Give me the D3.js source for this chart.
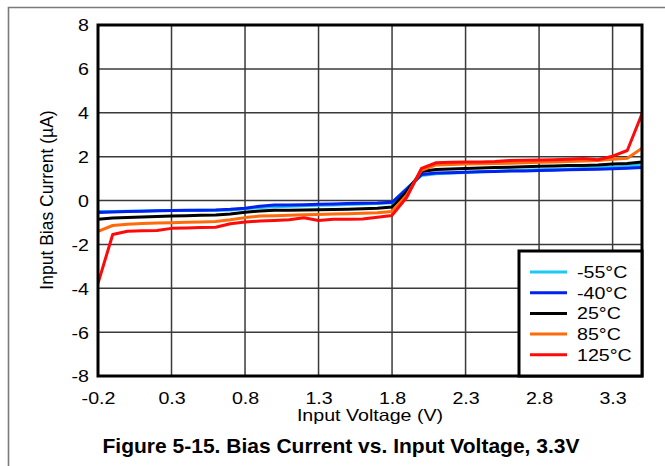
<!DOCTYPE html>
<html><head><meta charset="utf-8">
<script src="https://cdn.jsdelivr.net/npm/d3@7"></script>
<style>
body{margin:0;background:#fff}
svg{display:block}
text{font-family:"Liberation Sans",Arial,sans-serif;fill:#000}
</style>
</head><body>
<svg id="c" width="665" height="466"></svg>
<script>
const voltages = [-0.2,-0.1,0,0.1,0.2,0.3,0.4,0.5,0.6,0.7,0.8,0.9,1.0,1.1,1.2,1.3,1.4,1.5,1.6,1.7,1.8,1.9,2.0,2.1,2.2,2.3,2.4,2.5,2.6,2.7,2.8,2.9,3.0,3.1,3.2,3.3,3.4,3.5];
const seriesNames = ["-55°C","-40°C","25°C","85°C","125°C"];
const seriesColors = ["#1ec8f5","#0022ee","#000000","#ff6a0a","#ff0a0a"];
const iM55 = [-0.50,-0.50,-0.49,-0.48,-0.47,-0.46,-0.46,-0.45,-0.45,-0.43,-0.38,-0.32,-0.28,-0.26,-0.24,-0.22,-0.20,-0.18,-0.16,-0.14,-0.10,0.55,1.14,1.22,1.25,1.28,1.31,1.33,1.36,1.38,1.40,1.42,1.44,1.46,1.49,1.52,1.56,1.62];
const iM40 = [-0.55,-0.52,-0.50,-0.49,-0.47,-0.46,-0.45,-0.44,-0.43,-0.40,-0.35,-0.26,-0.21,-0.20,-0.19,-0.17,-0.16,-0.14,-0.12,-0.11,-0.08,0.52,1.18,1.25,1.27,1.29,1.31,1.32,1.34,1.35,1.37,1.38,1.40,1.41,1.43,1.45,1.47,1.50];
const i25 = [-0.85,-0.80,-0.77,-0.75,-0.73,-0.71,-0.69,-0.67,-0.66,-0.62,-0.54,-0.48,-0.45,-0.44,-0.43,-0.42,-0.41,-0.40,-0.38,-0.35,-0.30,0.40,1.32,1.41,1.44,1.46,1.48,1.50,1.52,1.54,1.56,1.57,1.59,1.60,1.62,1.66,1.69,1.76];
const i85 = [-1.41,-1.14,-1.08,-1.05,-1.03,-1.01,-0.99,-0.98,-0.96,-0.88,-0.78,-0.71,-0.69,-0.67,-0.65,-0.64,-0.62,-0.60,-0.58,-0.56,-0.50,0.25,1.38,1.62,1.64,1.66,1.67,1.69,1.70,1.72,1.74,1.76,1.78,1.80,1.82,1.88,1.93,2.38];
const i125 = [-3.78,-1.55,-1.40,-1.38,-1.37,-1.27,-1.25,-1.23,-1.22,-1.06,-0.98,-0.94,-0.91,-0.88,-0.79,-0.91,-0.86,-0.85,-0.84,-0.76,-0.68,0.15,1.46,1.72,1.74,1.75,1.76,1.78,1.82,1.83,1.85,1.86,1.88,1.91,1.86,2.02,2.28,3.95];
const xTicks = [-0.2,0.3,0.8,1.3,1.8,2.3,2.8,3.3];
const yTicks = [-8,-6,-4,-2,0,2,4,6,8];
const xLabel = "Input Voltage (V)";
const yLabel = "Input Bias Current (\u00b5A)";
const caption = "Figure 5-15. Bias Current vs. Input Voltage, 3.3V";

const seriesValues = [iM55, iM40, i25, i85, i125];
const svg = d3.select("#c");
const L = 98, R = 642, T = 25, B = 376;
const SX = 1.19; // horizontal stretch of chart texts
const x = d3.scaleLinear().domain([-0.2, 3.5]).range([L, R]);
const y = d3.scaleLinear().domain([-8, 8]).range([B, T]);
const hy = v => String(v).replace("\u2212", "-");

// outer frame
svg.append("path").attr("d", "M8.5,466 V7.5 H665").attr("fill","none").attr("stroke","#7a7a7a").attr("stroke-width",1.6);

// grid
const grid = svg.append("g").attr("stroke","#3a3a3a").attr("stroke-width",1.5);
grid.selectAll("line.v").data(xTicks.slice(1)).join("line")
  .attr("x1", d=>x(d)).attr("x2", d=>x(d)).attr("y1", T).attr("y2", B);
grid.selectAll("line.h").data(yTicks.slice(1,-1)).join("line")
  .attr("x1", L).attr("x2", R).attr("y1", d=>y(d)).attr("y2", d=>y(d));

// axes
const xAxis = svg.append("g").attr("transform", `translate(0,${B})`)
  .call(d3.axisBottom(x).tickValues(xTicks).tickSize(0).tickFormat(d => hy(d3.format(".1f")(d))));
xAxis.select(".domain").remove();
xAxis.selectAll("text").attr("font-size", 16.5).attr("font-family","Liberation Sans, Arial, sans-serif")
  .attr("y", 28).attr("dy", null).attr("transform", `scale(${SX},1)`);
const yAxis = svg.append("g").attr("transform", `translate(${L},0)`)
  .call(d3.axisLeft(y).tickValues(yTicks).tickSize(0).tickFormat(d => hy(d3.format("d")(d))));
yAxis.select(".domain").remove();
yAxis.selectAll("text").attr("font-size", 16.5).attr("font-family","Liberation Sans, Arial, sans-serif")
  .attr("x", -9 / SX).attr("dy", "0.36em").attr("transform", `scale(${SX},1)`);

// lines
svg.append("clipPath").attr("id","pc").append("rect").attr("x",L).attr("y",T).attr("width",R-L).attr("height",B-T);
const line = d3.line().x((d,i)=>x(voltages[i])).y(d=>y(d));
svg.append("g").attr("clip-path","url(#pc)").selectAll("path").data(seriesValues).join("path")
  .attr("d", line).attr("fill","none").attr("stroke",(d,i)=>seriesColors[i]).attr("stroke-width",3).attr("stroke-linejoin","round");

// plot border
svg.append("rect").attr("x",L).attr("y",T).attr("width",R-L).attr("height",B-T)
  .attr("fill","none").attr("stroke","#000").attr("stroke-width",3);

// legend
const lg = svg.append("g");
lg.append("rect").attr("x",519).attr("y",251).attr("width",R-519).attr("height",B-251)
  .attr("fill","#fff").attr("stroke","#000").attr("stroke-width",3);
seriesNames.forEach((n,i)=>{
  const yy = 272 + i*20.7;
  lg.append("line").attr("x1",530).attr("x2",567).attr("y1",yy).attr("y2",yy).attr("stroke",seriesColors[i]).attr("stroke-width",3);
  lg.append("text").attr("transform",`translate(577,${yy+6}) scale(${SX},1)`).attr("font-size",16.5).text(n);
});

// axis titles
svg.append("text").attr("transform",`translate(370,421) scale(${SX},1)`).attr("text-anchor","middle").attr("font-size",16.5).text(xLabel);
svg.append("text").attr("transform","translate(53,200) rotate(-90)").attr("text-anchor","middle").attr("font-size",17.5).text(yLabel);
svg.append("text").attr("x",341).attr("y",453).attr("text-anchor","middle").attr("font-size",21).attr("font-weight","bold").text(caption);
</script>
</body></html>
